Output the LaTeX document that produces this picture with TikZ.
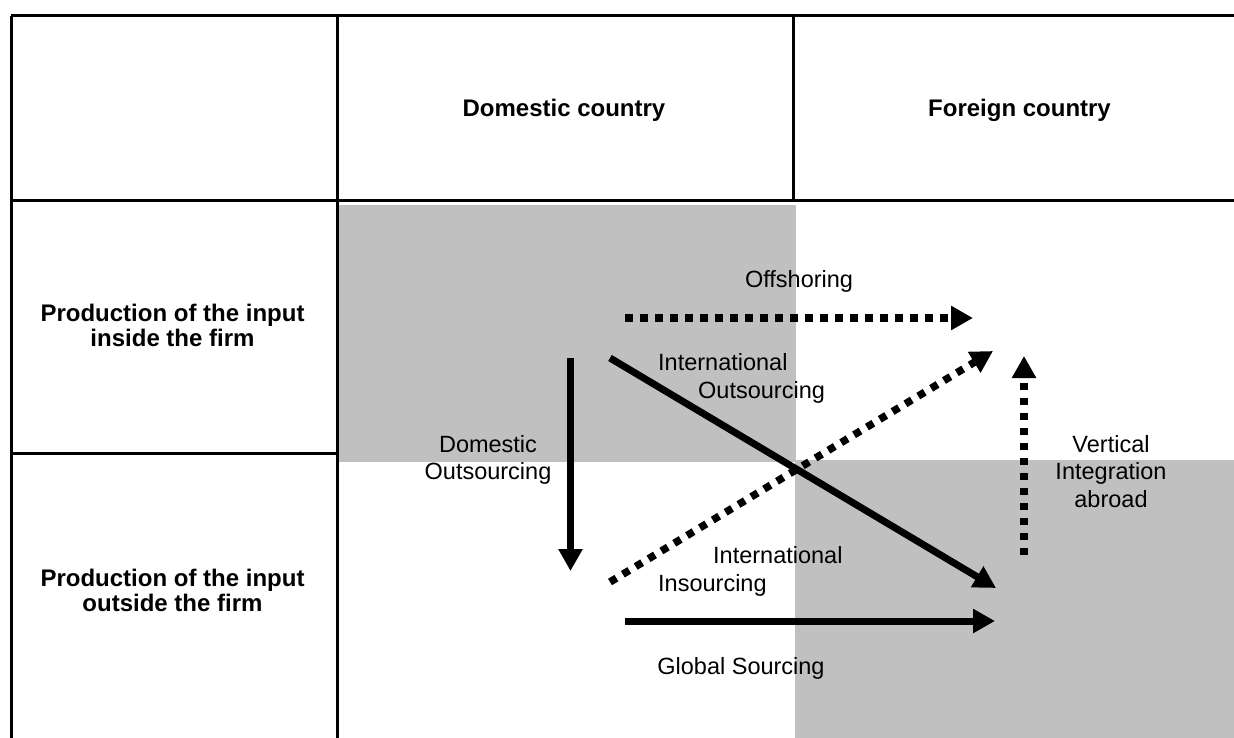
\documentclass[tikz,border=0pt]{standalone}
\usepackage{fontspec}
\setmainfont{Liberation Sans}
\usetikzlibrary{arrows.meta}
\definecolor{shadegray}{HTML}{C0C0C0}
\begin{document}
\begin{tikzpicture}[x=1pt,y=-1pt,
  gridline/.style={line width=3pt},
  shadebox/.style={fill=shadegray, draw=none},
  solidarrow/.style={line width=7pt, -{Triangle[length=22pt,width=23pt]}},
  dotarrow/.style={line width=7.5pt, dash pattern=on 7.5pt off 7.5pt, -{Triangle[length=22pt,width=23pt]}},
  headtext/.style={font=\fontsize{24}{25}\selectfont\bfseries, align=center, inner sep=0pt, anchor=base},
  lbl/.style={font=\fontsize{23.5}{27.5}\selectfont, inner sep=0pt},
]
\useasboundingbox (0,0) rectangle (1234,738);
% shaded quadrants
\fill[shadebox] (338,205) rectangle (796,462);
\fill[shadebox] (795,460) rectangle (1234,738);
% table lines
\draw[gridline] (11,16) -- (1234,16);
\draw[gridline] (11,201) -- (1234,201);
\draw[gridline] (11,16) -- (11,738);
\draw[gridline] (337,16) -- (337,738);
\draw[gridline] (793,16) -- (793,201);
\draw[gridline] (11,453) -- (337,453);
% headers
\node[headtext] (dom) at (564,117) {Domestic country};
\node[headtext] (for) at (1019.5,117) {Foreign country};
\node[headtext] (inside) at (172.5,346) {Production of the input\\inside the firm};
\node[headtext] (outside) at (172.5,611) {Production of the input\\outside the firm};
% arrow end points
\coordinate (offS) at (625,318);
\coordinate (offE) at (973,318);
\coordinate (doS) at (570.5,358);
\coordinate (doE) at (570.5,571);
\coordinate (ioS) at (610,358);
\coordinate (ioE) at (996,588);
\coordinate (iiS) at (610,582);
\coordinate (iiE) at (993,351);
\coordinate (viS) at (1024,555);
\coordinate (viE) at (1024,356);
\coordinate (gsS) at (625,621);
\coordinate (gsE) at (995,621);
% arrows
\draw[dotarrow] (offS) -- (offE);
\draw[solidarrow] (doS) -- (doE);
\draw[solidarrow] (ioS) -- (ioE);
\draw[dotarrow] (iiS) -- (iiE);
\draw[dotarrow] (viS) -- (viE);
\draw[solidarrow] (gsS) -- (gsE);
% labels
\node[lbl, anchor=base] (offl) at (799,287) {Offshoring};
\node[lbl, anchor=base west, align=left] (iol) at (658,398) {International\\\hspace*{40pt}Outsourcing};
\node[lbl, anchor=base, align=center] (dol) at (488,479.5) {Domestic\\Outsourcing};
\node[lbl, anchor=base, align=center] (vil) at (1111,507) {Vertical\\Integration\\abroad};
\node[lbl, anchor=base west, align=left] (iil) at (658,591) {\hspace*{55pt}International\\Insourcing};
\node[lbl, anchor=base] (gsl) at (741,674) {Global Sourcing};
\end{tikzpicture}
\end{document}
